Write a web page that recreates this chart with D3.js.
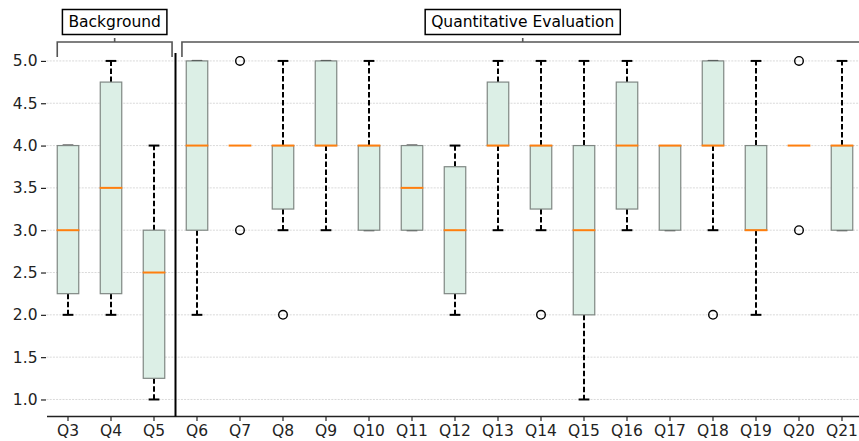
<!DOCTYPE html>
<html>
<head>
<meta charset="utf-8">
<script src="https://cdn.jsdelivr.net/npm/d3@7"></script>
<style>
  body { margin: 0; background: #fff; }
  svg { display: block; font-family: "DejaVu Sans", sans-serif; }
</style>
</head>
<body>
<div class="vis-boxplot"></div>
<script>
// questions and their box statistics
const questions = ["Q3", "Q4", "Q5", "Q6", "Q7", "Q8", "Q9", "Q10", "Q11", "Q12",
  "Q13", "Q14", "Q15", "Q16", "Q17", "Q18", "Q19", "Q20", "Q21"];
const whiskLow  = [2, 2, 1, 2, 4, 3, 3, 3, 3, 2, 3, 3, 1, 3, 3, 3, 2, 4, 3];
const q1        = [2.25, 2.25, 1.25, 3, 4, 3.25, 4, 3, 3, 2.25, 4, 3.25, 2, 3.25, 3, 4, 3, 4, 3];
const medians   = [3, 3.5, 2.5, 4, 4, 4, 4, 4, 3.5, 3, 4, 4, 3, 4, 4, 4, 3, 4, 4];
const q3        = [4, 4.75, 3, 5, 4, 4, 5, 4, 4, 3.75, 4.75, 4, 4, 4.75, 4, 5, 4, 4, 4];
const whiskHigh = [4, 5, 4, 5, 4, 5, 5, 5, 4, 4, 5, 5, 5, 5, 4, 5, 5, 4, 5];
const outliers  = [[], [], [], [], [5, 3], [2], [], [], [], [], [], [2], [], [], [], [2], [], [5, 3], []];

const yTicks = [1.0, 1.5, 2.0, 2.5, 3.0, 3.5, 4.0, 4.5, 5.0];

const groupNames = ["Background", "Quantitative Evaluation"];
const groupFirst = ["Q3", "Q6"];
const groupLast = ["Q5", "Q21"];

const data = questions.map((q, i) => ({
  q: q, lo: whiskLow[i], q1: q1[i], med: medians[i], q3: q3[i], hi: whiskHigh[i], out: outliers[i]
}));

const W = 859, H = 441;
const plotLeft = 46.5, plotRight = 863.5, plotTop = 44, plotBottom = 416.4;

const svg = d3.select(".vis-boxplot").append("svg")
  .attr("width", W).attr("height", H);

const x = d3.scaleBand().domain(questions).range([plotLeft, plotRight]).padding(0);
const y = d3.scaleLinear().domain([0.8, 5.2]).range([plotBottom, plotTop]);
const bw = x.bandwidth();
const cx = (q) => x(q) + bw / 2;
const boxW = bw * 0.5, capW = bw * 0.25;

// grid
svg.append("g").selectAll("line").data(yTicks).enter().append("line")
  .attr("x1", plotLeft).attr("x2", W)
  .attr("y1", d => y(d)).attr("y2", d => y(d))
  .attr("stroke", "#cfcfcf").attr("stroke-width", 0.8)
  .attr("stroke-dasharray", "2,1.2");

// y axis (no spine)
const yAxis = svg.append("g")
  .attr("transform", "translate(" + (plotLeft - 0.5) + ",0)")
  .call(d3.axisLeft(y).tickValues(yTicks).tickFormat(d3.format(".1f")).tickSize(5).tickPadding(3.5));
yAxis.select(".domain").remove();
yAxis.selectAll("line").attr("stroke", "#222").attr("stroke-width", 1.2);
yAxis.selectAll("text").attr("font-size", "15.5px").attr("fill", "#222")
  .attr("font-family", "DejaVu Sans");

// x axis
const xAxis = svg.append("g")
  .attr("transform", "translate(0," + (plotBottom - 0.5) + ")")
  .call(d3.axisBottom(x).tickSize(5).tickPadding(4.5).tickSizeOuter(0));
xAxis.select(".domain").attr("stroke", "#222").attr("stroke-width", 1.5);
xAxis.selectAll("line").attr("stroke", "#222").attr("stroke-width", 1.2);
xAxis.selectAll("text").attr("font-size", "15.5px").attr("fill", "#222")
  .attr("font-family", "DejaVu Sans");

const g = svg.append("g");

// whiskers
const whiskers = [];
data.forEach(d => {
  if (d.hi > d.q3) whiskers.push({ q: d.q, a: d.q3, b: d.hi });
  if (d.lo < d.q1) whiskers.push({ q: d.q, a: d.q1, b: d.lo });
});
g.selectAll(".whisker").data(whiskers).enter().append("line")
  .attr("x1", d => cx(d.q)).attr("x2", d => cx(d.q))
  .attr("y1", d => y(d.a)).attr("y2", d => y(d.b))
  .attr("stroke", "#000").attr("stroke-width", 2)
  .attr("stroke-dasharray", "5.5,2.5");

// caps (under the boxes; hidden by the median when they coincide)
const caps = [];
data.forEach(d => {
  if (d.hi !== d.med) caps.push({ q: d.q, v: d.hi });
  if (d.lo !== d.med) caps.push({ q: d.q, v: d.lo });
});
g.selectAll(".cap").data(caps).enter().append("line")
  .attr("x1", d => cx(d.q) - capW / 2).attr("x2", d => cx(d.q) + capW / 2)
  .attr("y1", d => y(d.v)).attr("y2", d => y(d.v))
  .attr("stroke", "#000").attr("stroke-width", 2);

// boxes
g.selectAll(".box").data(data.filter(d => d.q3 > d.q1)).enter().append("rect")
  .attr("class", "box")
  .attr("x", d => cx(d.q) - boxW / 2)
  .attr("width", boxW)
  .attr("y", d => y(d.q3))
  .attr("height", d => y(d.q1) - y(d.q3))
  .attr("fill", "#dcefe6")
  .attr("stroke", "#7f8783")
  .attr("stroke-width", 1.2);

// medians
g.selectAll(".median").data(data).enter().append("line")
  .attr("x1", d => cx(d.q) - boxW / 2 - 0.6).attr("x2", d => cx(d.q) + boxW / 2 + 0.6)
  .attr("y1", d => y(d.med)).attr("y2", d => y(d.med))
  .attr("stroke", "#ff7f0e").attr("stroke-width", 2);

// fliers
const fliers = [];
data.forEach(d => d.out.forEach(v => fliers.push({ q: d.q, v: v })));
g.selectAll(".flier").data(fliers).enter().append("circle")
  .attr("cx", d => cx(d.q)).attr("cy", d => y(d.v)).attr("r", 4.3)
  .attr("fill", "none").attr("stroke", "#000").attr("stroke-width", 1.4);

// separator between groups
svg.append("line")
  .attr("x1", x("Q6")).attr("x2", x("Q6"))
  .attr("y1", 53).attr("y2", plotBottom)
  .attr("stroke", "#000").attr("stroke-width", 2);

// group brackets with labels
const bracketPad = [[-0.25, 0.42], [-0.35, 0.5]];
groupNames.forEach((name, i) => {
  const x0 = cx(groupFirst[i]) + bracketPad[i][0] * bw;
  const x1 = cx(groupLast[i]) + bracketPad[i][1] * bw;
  const mid = (x0 + x1) / 2;
  const by = 42;
  svg.append("path")
    .attr("d", "M" + x0 + "," + (by + 15) + "V" + by + "H" + x1 + "V" + (by + 15)
      + "M" + mid + "," + by + "V" + (by - 4))
    .attr("fill", "none").attr("stroke", "#555").attr("stroke-width", 1.6);

  const box = svg.append("rect");
  const t = svg.append("text")
    .attr("x", mid).attr("y", 27)
    .attr("text-anchor", "middle")
    .attr("font-size", "15.5px").attr("fill", "#000")
    .text(name);
  const tw = t.node().getComputedTextLength();
  box.attr("x", mid - tw / 2 - 6).attr("y", 9.5)
    .attr("width", tw + 12).attr("height", 25)
    .attr("fill", "#fff").attr("stroke", "#000").attr("stroke-width", 1.5);
});
</script>
</body>
</html>
